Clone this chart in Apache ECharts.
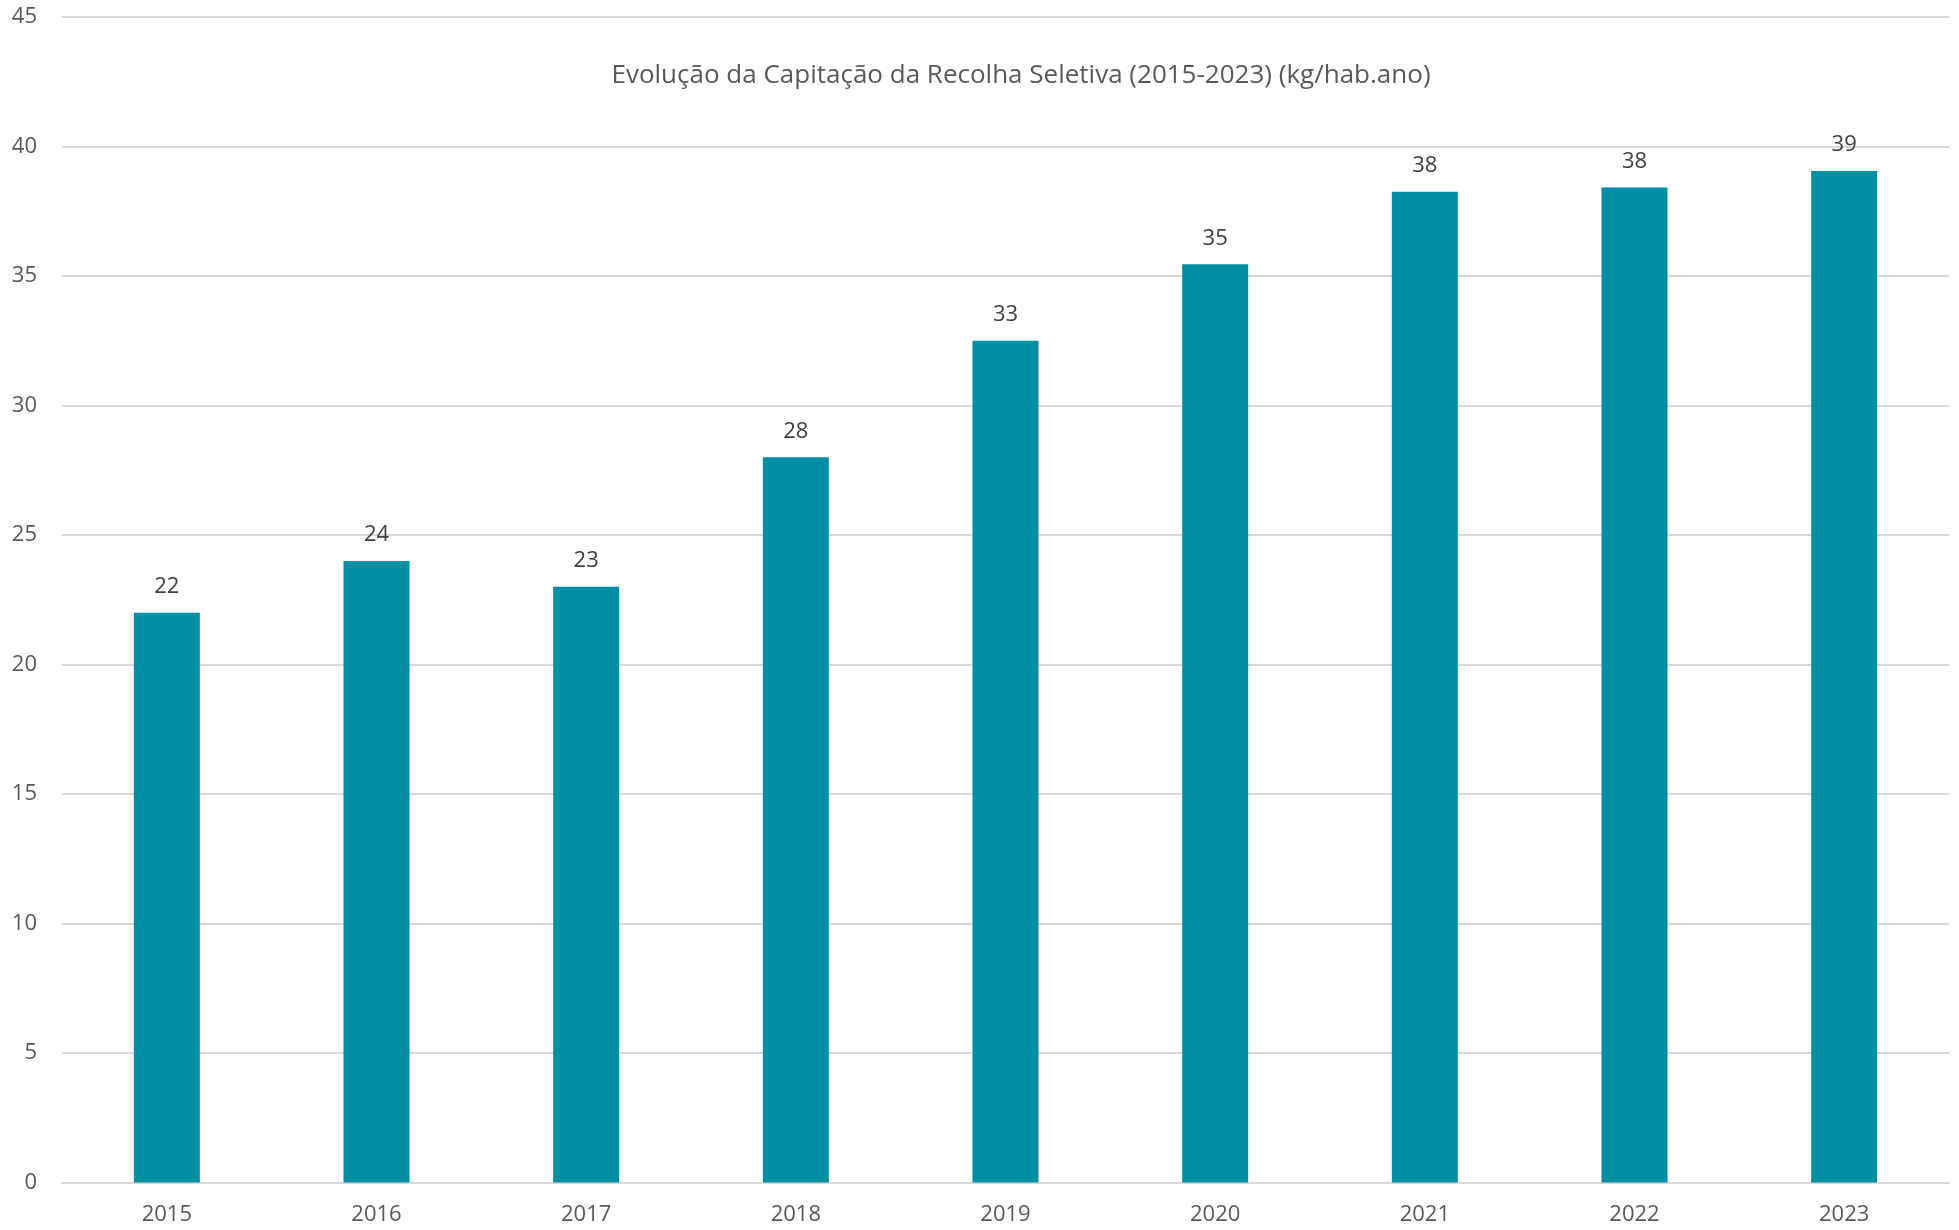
<!DOCTYPE html>
<html>
<head>
<meta charset="utf-8">
<script src="https://cdn.jsdelivr.net/npm/echarts@6/dist/echarts.min.js"></script>
<style>
html,body{margin:0;padding:0;background:#fff;}
#chart{width:1959px;height:1230px;}
</style>
</head>
<body>
<div id="chart"></div>
<script>
const titleText = 'Evolução da Capitação da Recolha Seletiva (2015-2023) (kg/hab.ano)';
const years = ['2015','2016','2017','2018','2019','2020','2021','2022','2023'];
const capitacao = [22.0, 24.0, 23.0, 28.0, 32.5, 35.45, 38.25, 38.42, 39.05];
const yMin = 0, yMax = 45, yStep = 5;

const chart = echarts.init(document.getElementById('chart'), null, {renderer:'canvas'});
const FONT = '"Open Sans", "Noto Sans", sans-serif';
chart.setOption({
  animation: false,
  backgroundColor: '#ffffff',
  title: {
    text: titleText,
    left: 1016, top: 58, textAlign: 'center',
    textStyle: {fontFamily: FONT, fontSize: 26, fontWeight: 'normal', color: '#595959'}
  },
  grid: {left: 62, right: 10, top: 17, bottom: 47.5, containLabel: false},
  xAxis: {
    type: 'category',
    data: years,
    axisLine: {show: true, lineStyle: {color: '#d9d9d9', width: 2}},
    axisTick: {show: false},
    axisLabel: {fontFamily: FONT, fontSize: 22, color: '#595959', margin: 21}
  },
  yAxis: {
    type: 'value',
    min: yMin, max: yMax, interval: yStep,
    axisLine: {show: false},
    axisTick: {show: false},
    splitLine: {show: true, lineStyle: {color: '#d9d9d9', width: 2}},
    axisLabel: {fontFamily: FONT, fontSize: 22, color: '#595959', margin: 25}
  },
  series: [{
    type: 'bar',
    data: capitacao,
    barWidth: 66,
    itemStyle: {color: '#008FA3'},
    label: {
      show: true, position: 'top', distance: 15,
      fontFamily: FONT, fontSize: 22, color: '#404040',
      formatter: p => Math.round(p.value)
    }
  }]
});
</script>
</body>
</html>
